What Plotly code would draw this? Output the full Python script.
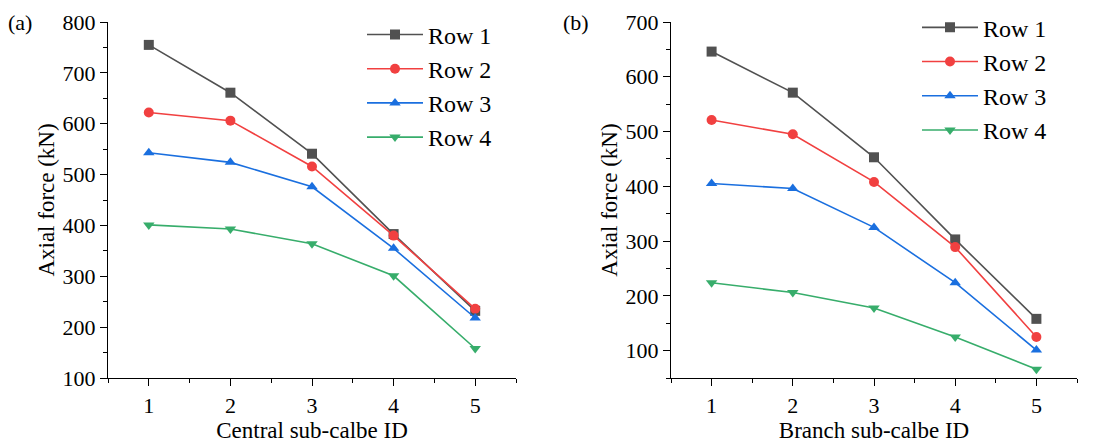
import plotly.graph_objects as go
from plotly.subplots import make_subplots

# Sub-cable IDs along each cable
sub_ids = [1, 2, 3, 4, 5]
row_names = ["Row 1", "Row 2", "Row 3", "Row 4"]

# Axial force (kN) in the central sub-cables
central_row1 = [755, 661, 541, 383, 232]
central_row2 = [622, 606, 516, 380, 236]
central_row3 = [543, 524, 476, 355, 218]
central_row4 = [401, 393, 364, 301, 158]

# Axial force (kN) in the branch sub-cables
branch_row1 = [646, 571, 453, 303, 158]
branch_row2 = [521, 495, 408, 289, 125]
branch_row3 = [405, 396, 325, 224, 101]
branch_row4 = [224, 206, 178, 125, 66]

colors = ["#515151", "#F14040", "#1A6FDF", "#37AD6B"]
symbols = ["square", "circle", "triangle-up", "triangle-down"]

FONT = "Liberation Serif"
W, H = 1115, 443

fig = make_subplots(rows=1, cols=2)

central = [central_row1, central_row2, central_row3, central_row4]
branch = [branch_row1, branch_row2, branch_row3, branch_row4]

for col, (series, leg) in enumerate([(central, "legend"), (branch, "legend2")], start=1):
    for name, vals, c, s in zip(row_names, series, colors, symbols):
        fig.add_trace(
            go.Scatter(
                x=sub_ids, y=vals, name=name, mode="lines+markers",
                line=dict(color=c, width=1.6),
                marker=dict(symbol=s, size=10, color=c),
                legend=leg,
            ),
            row=1, col=col,
        )

axis_common = dict(
    showline=True, linecolor="black", linewidth=1.3,
    ticks="outside", ticklen=7, tickwidth=1.3, tickcolor="black",
    showgrid=False, zeroline=False, mirror=False,
    tickfont=dict(family=FONT, size=22, color="black"),
    minor=dict(ticks="outside", ticklen=4, tickwidth=1.2, tickcolor="black"),
)
title_font = dict(family=FONT, size=23, color="black")

fig.update_xaxes(
    **axis_common, range=[0.5, 5.5], tickmode="array", tickvals=sub_ids,
)
fig.update_xaxes(domain=[108 / W, 516 / W], row=1, col=1,
                 minor_dtick=0.5, minor_tick0=0.5,
                 title=dict(text="Central sub-calbe ID", standoff=5, font=title_font))
fig.update_xaxes(domain=[671 / W, 1077 / W], row=1, col=2,
                 minor_dtick=0.5, minor_tick0=0.5,
                 title=dict(text="Branch sub-calbe ID", standoff=5, font=title_font))

fig.update_yaxes(**axis_common)
fig.update_yaxes(range=[100, 800], dtick=100, minor_dtick=50, row=1, col=1,
                 title=dict(text="Axial force (kN)", standoff=1, font=title_font))
fig.update_yaxes(range=[50, 700], dtick=100, tick0=0, minor_dtick=50, row=1, col=2,
                 title=dict(text="Axial force (kN)", standoff=1, font=title_font))

legend_common = dict(
    font=dict(family=FONT, size=24, color="black"),
    bgcolor="rgba(0,0,0,0)", borderwidth=0,
    itemwidth=56, tracegroupgap=0,
    xanchor="left", yanchor="top",
)

fig.update_layout(
    width=W, height=H,
    margin=dict(l=0, r=0, t=22, b=65),
    paper_bgcolor="white", plot_bgcolor="white",
    showlegend=True,
    legend=dict(**legend_common, x=362 / W, y=1.027),
    legend2=dict(**legend_common, x=917 / W, y=1.047),
    annotations=[
        dict(text="(a)", x=6 / W, y=1.0, xref="paper", yref="paper",
             xanchor="left", yanchor="middle", showarrow=False,
             font=dict(family=FONT, size=22, color="black")),
        dict(text="(b)", x=561 / W, y=1.0, xref="paper", yref="paper",
             xanchor="left", yanchor="middle", showarrow=False,
             font=dict(family=FONT, size=22, color="black")),
    ],
)

fig.write_html("out.html")
